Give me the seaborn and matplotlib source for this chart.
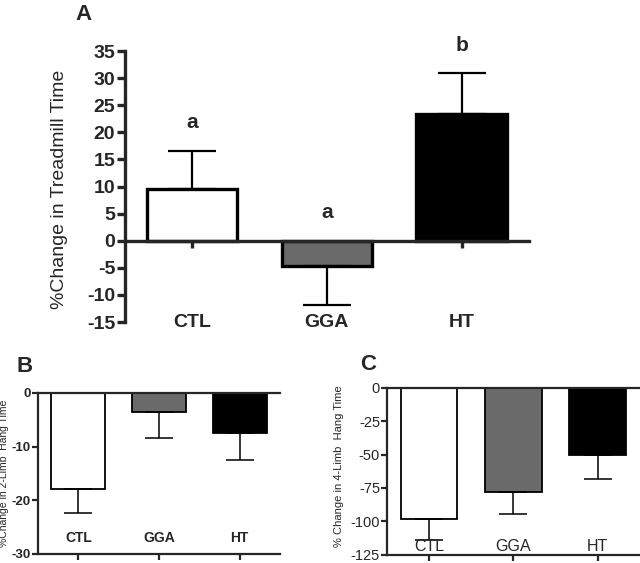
import matplotlib
matplotlib.use("Agg")
import matplotlib.pyplot as plt
import matplotlib.transforms as mtransforms
import seaborn as sns

# data
groups = ['CTL', 'GGA', 'HT']
bar_colors = ['white', '#6a6a6a', 'black']

treadmill = [9.6, -4.6, 23.3]
treadmill_err = [6.9, 7.2, 7.6]
treadmill_letters = ['a', 'a', 'b']
letter_y = [21.8, 5.2, 36.0]

hang2 = [-17.9, -3.6, -7.5]
hang2_err = [4.5, 4.8, 4.9]

hang4 = [-98.5, -78.3, -50.7]
hang4_err = [15.3, 16.3, 17.3]

sns.set_style("ticks")
plt.rcParams['font.family'] = ['Liberation Sans', 'DejaVu Sans']
plt.rcParams['axes.unicode_minus'] = False

fig = plt.figure(figsize=(6.4, 5.63), dpi=100)
axA = fig.add_axes([0.1953, 0.428, 0.631, 0.4813])
axB = fig.add_axes([0.0594, 0.0160, 0.378, 0.2860])
axC = fig.add_axes([0.6047, 0.0150, 0.395, 0.2960])


def draw_bars(ax, vals, errs, lw, elw, cap):
    sns.barplot(x=groups, y=vals, hue=groups, palette=bar_colors, legend=False,
                edgecolor='black', linewidth=lw, width=0.67, errorbar=None, ax=ax)
    lower = [e if v < 0 else 0 for v, e in zip(vals, errs)]
    upper = [e if v >= 0 else 0 for v, e in zip(vals, errs)]
    ax.errorbar(range(len(groups)), vals, yerr=[lower, upper], fmt='none',
                ecolor='black', elinewidth=elw, capsize=cap, capthick=elw, zorder=1)
    ax.set_xlim(-0.5, 2.5)


# Panel A
draw_bars(axA, treadmill, treadmill_err, 2.4, 1.6, 17)
axA.set_ylim(-15, 35)
axA.set_yticks(range(-15, 36, 5))
axA.spines['bottom'].set_position(('data', 0))
axA.spines['top'].set_visible(False)
axA.spines['right'].set_visible(False)
for s in ['left', 'bottom']:
    axA.spines[s].set_linewidth(2.4)
axA.tick_params(axis='y', width=2.4, length=6, labelsize=14, pad=1)
axA.tick_params(axis='x', width=2.4, length=5, labelbottom=False)
for t in axA.get_yticklabels():
    t.set_fontweight('bold')
trans = mtransforms.blended_transform_factory(axA.transData, axA.transAxes)
for i, g in enumerate(groups):
    axA.text(i, 0.0, g, transform=trans, ha='center', va='center',
             fontsize=14, fontweight='bold')
for i, (lt, ly) in enumerate(zip(treadmill_letters, letter_y)):
    axA.text(i, ly, lt, ha='center', va='center', fontsize=15, fontweight='bold')
axA.set_ylabel('%Change in Treadmill Time', fontsize=14)
axA.yaxis.set_label_coords(-0.14, 0.49)
axA.set_xlabel('')
fig.text(83 / 640, 1 - 14 / 563, 'A', fontsize=16, fontweight='bold',
         ha='center', va='center')

# Panel B
draw_bars(axB, hang2, hang2_err, 1.3, 1.1, 10)
axB.set_ylim(-30, 0)
axB.set_yticks([0, -10, -20, -30])
axB.spines['right'].set_visible(False)
for s in ['left', 'bottom', 'top']:
    axB.spines[s].set_linewidth(1.6)
axB.tick_params(axis='both', width=1.6, length=4, labelsize=9.5, pad=1)
for t in axB.get_yticklabels():
    t.set_fontweight('bold')
axB.tick_params(axis='x', labelbottom=False)
for i, g in enumerate(groups):
    axB.text(i, -27.1, g, ha='center', va='center', fontsize=10, fontweight='bold')
axB.set_ylabel('%Change in 2-Limb  Hang Time', fontsize=7.5)
axB.yaxis.set_label_coords(-0.118, 0.5)
axB.set_xlabel('')
fig.text(25 / 640, 1 - 367 / 563, 'B', fontsize=16, fontweight='bold',
         ha='center', va='center')

# Panel C
draw_bars(axC, hang4, hang4_err, 1.3, 1.1, 10)
axC.set_ylim(-125, 0)
axC.set_yticks([0, -25, -50, -75, -100, -125])
axC.spines['right'].set_visible(False)
for s in ['left', 'bottom', 'top']:
    axC.spines[s].set_linewidth(1.6)
axC.tick_params(axis='both', width=1.6, length=4, labelsize=10.5, pad=1)
axC.tick_params(axis='x', labelbottom=False)
for i, g in enumerate(groups):
    axC.text(i, -119, g, ha='center', va='center', fontsize=11.5)
axC.set_ylabel('% Change in 4-Limb  Hang Time', fontsize=8)
axC.yaxis.set_label_coords(-0.17, 0.53)
axC.set_xlabel('')
fig.text(368 / 640, 1 - 365 / 563, 'C', fontsize=16, fontweight='bold',
         ha='center', va='center')

fig.savefig('out.png', dpi=100)
